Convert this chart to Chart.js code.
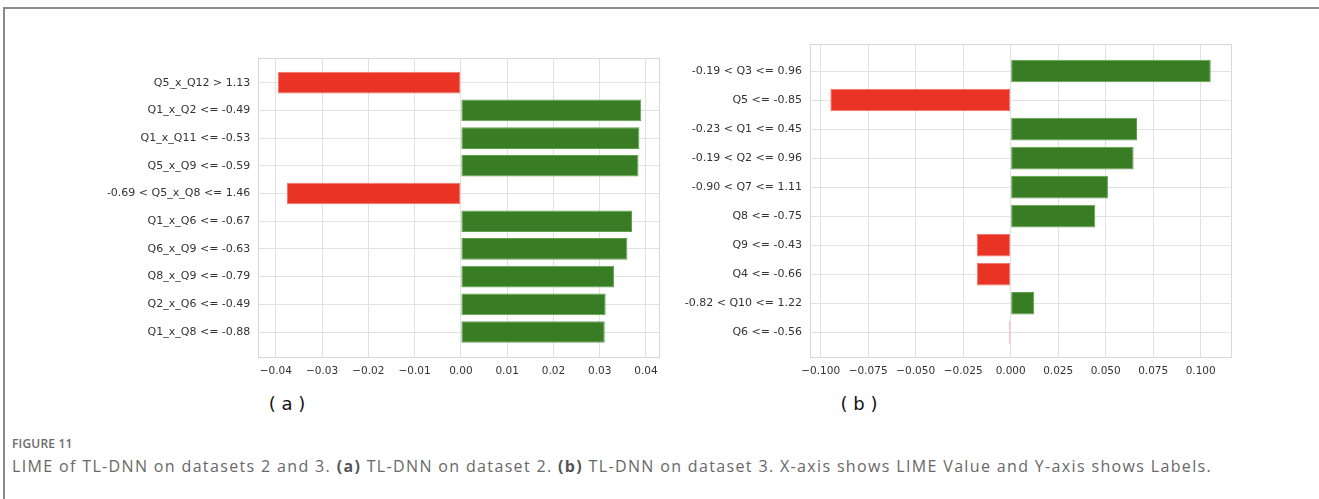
<!DOCTYPE html>
<html>
<head>
<meta charset="utf-8">
<script src="https://cdn.jsdelivr.net/npm/chart.js@4/dist/chart.umd.min.js"></script>
<style>
  html, body { margin: 0; padding: 0; background: #fff; }
  body { width: 1319px; height: 499px; position: relative; overflow: hidden; }
  .frame { position: absolute; left: 3px; top: 7px; right: -4px; bottom: -4px;
           border-left: 2px solid #8c8c8c; border-top: 2px solid #8c8c8c; }
  canvas { position: absolute; top: 0; }
  #chartA { left: 0; }
  #chartB { left: 670px; }
  .sub { position: absolute; top: 393px; font-family: "DejaVu Sans"; font-size: 18px;
         color: #111; transform: translateX(-50%); white-space: pre; }
  .figno { position: absolute; left: 12px; top: 435px; font-family: "Open Sans";
           font-size: 12px; font-weight: 600; color: #6b6b6b; letter-spacing: 0.2px; }
  .caption { position: absolute; left: 12px; top: 455px; font-family: "Open Sans";
             font-size: 16px; letter-spacing: 1.35px; color: #686868; white-space: nowrap; }
  .caption b { font-weight: 700; color: #555; }
</style>
</head>
<body>
<div class="frame"></div>
<canvas id="chartA" width="670" height="390"></canvas>
<canvas id="chartB" width="649" height="390"></canvas>
<div class="sub" style="left:287px">( a )</div>
<div class="sub" style="left:859px">( b )</div>
<div class="figno">FIGURE 11</div>
<div class="caption">LIME of TL-DNN on datasets 2 and 3. <b>(a)</b> TL-DNN on dataset 2. <b>(b)</b> TL-DNN on dataset 3. X-axis shows LIME Value and Y-axis shows Labels.</div>

<script>
// Panel (a): TL-DNN on dataset 2
const labelsA = [
  'Q5_x_Q12 > 1.13',
  'Q1_x_Q2 <= -0.49',
  'Q1_x_Q11 <= -0.53',
  'Q5_x_Q9 <= -0.59',
  '-0.69 < Q5_x_Q8 <= 1.46',
  'Q1_x_Q6 <= -0.67',
  'Q6_x_Q9 <= -0.63',
  'Q8_x_Q9 <= -0.79',
  'Q2_x_Q6 <= -0.49',
  'Q1_x_Q8 <= -0.88'
];
const valuesA = [-0.0396, 0.0390, 0.0386, 0.0384, -0.0376, 0.0370, 0.0360, 0.0331, 0.0313, 0.0311];
const xTicksA = [-0.04, -0.03, -0.02, -0.01, 0.00, 0.01, 0.02, 0.03, 0.04];

// Panel (b): TL-DNN on dataset 3
const labelsB = [
  '-0.19 < Q3 <= 0.96',
  'Q5 <= -0.85',
  '-0.23 < Q1 <= 0.45',
  '-0.19 < Q2 <= 0.96',
  '-0.90 < Q7 <= 1.11',
  'Q8 <= -0.75',
  'Q9 <= -0.43',
  'Q4 <= -0.66',
  '-0.82 < Q10 <= 1.22',
  'Q6 <= -0.56'
];
const valuesB = [0.1053, -0.0949, 0.0665, 0.0647, 0.0512, 0.0445, -0.0178, -0.0177, 0.0124, -0.0007];
const xTicksB = [-0.100, -0.075, -0.050, -0.025, 0.000, 0.025, 0.050, 0.075, 0.100];

const RED = 'rgb(233,52,37)';
const RED_EDGE = 'rgb(244,118,106)';
const GREEN = 'rgb(56,124,35)';
const GREEN_EDGE = 'rgb(96,160,76)';
const GRID = '#e2e2e2';
const SPINE = '#d8d8d8';
const TICK = '#333333';

// outline of the plotting area (all four spines)
const frameBox = {
  id: 'frameBox',
  afterDatasetsDraw(chart) {
    const a = chart.chartArea, c = chart.ctx;
    c.save();
    c.strokeStyle = SPINE;
    c.lineWidth = 1;
    c.strokeRect(Math.round(a.left) + 0.5, Math.round(a.top) + 0.5,
                 Math.round(a.right - a.left), Math.round(a.bottom - a.top));
    c.restore();
  }
};

function fmt(v, d) {
  const s = Math.abs(v).toFixed(d);
  return (v < -1e-12 ? '\u2212' : '') + s;
}

function lime(id, labels, values, xTicks, decimals, g) {
  const data = values.map((v, i) => ({ x: v, y: i }));
  return new Chart(document.getElementById(id), {
    type: 'bar',
    data: {
      datasets: [{
        data,
        backgroundColor: values.map(v => v < 0 ? RED : GREEN),
        borderColor: values.map(v => v < 0 ? RED_EDGE : GREEN_EDGE),
        borderWidth: 1,
        borderSkipped: false,
        categoryPercentage: 1,
        barPercentage: 0.78
      }]
    },
    options: {
      indexAxis: 'y',
      responsive: false,
      animation: false,
      devicePixelRatio: 1,
      layout: { padding: { left: 0, top: g.top, right: g.right, bottom: 0 } },
      plugins: { legend: { display: false }, tooltip: { enabled: false } },
      scales: {
        x: {
          type: 'linear',
          offset: false,
          min: g.xmin, max: g.xmax,
          afterBuildTicks: s => { s.ticks = xTicks.map(v => ({ value: v })); },
          afterFit: s => { s.height = g.xh; },
          grid: { color: GRID, lineWidth: 1, drawTicks: false, offset: false },
          border: { display: false },
          ticks: {
            padding: 8, color: TICK, maxRotation: 0, autoSkip: false,
            font: { family: 'DejaVu Sans', size: 10.5 },
            callback: v => fmt(v, decimals)
          }
        },
        y: {
          type: 'linear',
          reverse: true,
          offset: false,
          min: g.ymin, max: labels.length - 1 + g.ymax,
          afterBuildTicks: s => { s.ticks = labels.map((_, i) => ({ value: i })); },
          afterFit: s => { s.width = g.yw; },
          grid: { color: GRID, lineWidth: 1, drawTicks: false, offset: false },
          border: { display: false },
          ticks: {
            padding: 8, color: TICK, autoSkip: false,
            font: { family: 'DejaVu Sans', size: 11 },
            callback: v => labels[v]
          }
        }
      }
    },
    plugins: [frameBox]
  });
}

lime('chartA', labelsA, valuesA, xTicksA, 2,
     { top: 58, right: 10.7, yw: 258.3, xh: 33.3, xmin: -0.0438, xmax: 0.0429, ymin: -0.89, ymax: 0.89 });
lime('chartB', labelsB, valuesB, xTicksB, 3,
     { top: 44, right: 88.3, yw: 140, xh: 32.7, xmin: -0.1056, xmax: 0.1158, ymin: -0.93, ymax: 0.86 });
</script>
</body>
</html>
